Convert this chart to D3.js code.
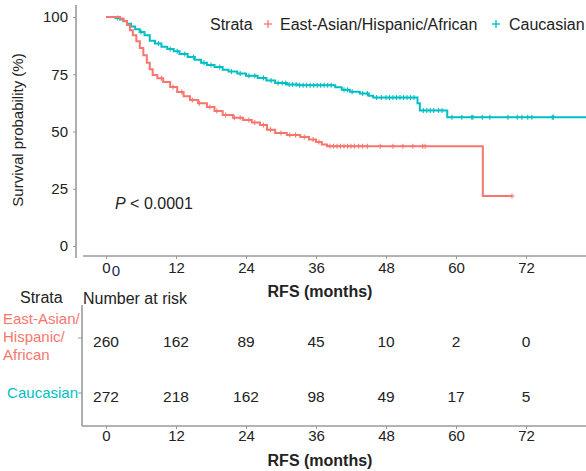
<!DOCTYPE html>
<html>
<head>
<meta charset="utf-8">
<script src="https://cdn.jsdelivr.net/npm/d3@7"></script>
<style>
  body { margin: 0; background: #fff; }
  text { font-family: "Liberation Sans", Arial, sans-serif; }
</style>
</head>
<body>
<div id="chart"></div>
<script>
// survival steps [month, survival %]
let stepsEAH = [[0,100],[2.4,99.3],[3.0,98.2],[3.6,96.5],[4.1,94.2],[4.6,92.0],[5.2,89.4],[5.8,86.5],[6.4,83.3],[7.0,80.0],[7.5,77.2],[8.0,74.7],[8.8,73.2],[9.8,71.6],[11.0,69.4],[12.2,67.2],[13.3,65.4],[14.4,63.8],[15.8,62.3],[17.3,60.7],[18.6,59.0],[20.0,57.2],[21.8,56.0],[23.5,55.0],[25.0,53.9],[26.4,52.8],[27.6,50.8],[29.0,49.3],[31.0,48.5],[33.3,47.6],[34.8,46.5],[36.0,45.4],[37.0,44.3],[37.9,43.6],[64.6,21.8]];
let stepsCau = [[0,100],[1.6,99.6],[2.4,98.9],[3.0,98.1],[3.6,97.0],[4.3,95.8],[5.0,94.7],[5.8,93.5],[6.6,92.0],[7.5,89.6],[8.4,88.4],[9.5,87.0],[10.5,86.0],[11.6,85.0],[12.6,83.8],[14.0,82.5],[15.2,81.3],[16.3,80.0],[17.3,79.0],[18.6,78.2],[20.0,77.0],[21.0,76.2],[22.5,75.3],[24.0,74.3],[26.0,73.4],[27.5,72.3],[29.0,71.2],[31.0,70.5],[33.0,70.2],[39.3,69.3],[40.4,68.2],[41.8,67.4],[43.5,66.6],[45.0,65.6],[45.8,64.8],[53.4,62.3],[53.8,59.2],[58.5,56.2]];
let endEAH = 69.6;
let endCau = 84;

// censoring times (months)
let censEAH = [9.5,11.5,13,14.8,16,17.8,19,20.5,22,23,24.5,25.5,27,28.2,30,31.5,32.5,34,35.5,36.5,38.4,39,39.6,40.2,40.8,41.4,42,42.6,43.3,44,44.8,47,49.2,50.9,52.6,54.3,54.7,69.6];
let censCau = [2,6,9,11,12.2,13.5,15,16.8,18,19.5,21.5,23,24.5,25.5,27,28.3,29.5,30.2,30.8,31.4,32,32.6,33.2,33.8,34.4,35,35.6,36.2,36.8,37.4,38,38.6,40.8,41.4,42.2,44,44.8,46.4,47.2,48,48.6,49.2,49.8,50.4,51,51.6,52.2,52.8,54.4,55,55.6,56.2,57,57.6,59.3,61,62.7,62.9,64.5,65.8,68.9,70.5,71.3,72.3,73,76.5,76.7];

let xTicks = [0,12,24,36,48,60,72];
let yTicks = [0,25,50,75,100];
let riskEAH = [260,162,89,45,10,2,0];
let riskCau = [272,218,162,98,49,17,5];

let red = "#F8766D", teal = "#00BFC4", axisCol = "#9a9a9a", txt = "#222";
let width = 586, height = 471;

let svg = d3.select("#chart").append("svg")
    .attr("width", width).attr("height", height);

let x = d3.scaleLinear().domain([0, 72]).range([106, 526]);
let y = d3.scaleLinear().domain([0, 100]).range([246, 17]);

// y axis
let yAxis = svg.append("g")
    .attr("transform", "translate(76,0)")
    .call(d3.axisLeft(y).tickValues(yTicks).tickSize(3).tickPadding(5));
yAxis.select(".domain").remove();
yAxis.selectAll("line").attr("stroke", axisCol);
yAxis.selectAll("text").attr("fill", txt).style("font-size", "15px");
svg.append("line").attr("x1", 76).attr("x2", 76).attr("y1", 5).attr("y2", 258)
    .attr("stroke", axisCol).attr("stroke-width", 1.6);

// x axis
let xAxis = svg.append("g")
    .attr("transform", "translate(0,256)")
    .call(d3.axisBottom(x).tickValues(xTicks).tickSize(3).tickPadding(3));
xAxis.select(".domain").remove();
xAxis.selectAll("line").attr("stroke", axisCol);
xAxis.selectAll("text").attr("fill", txt).style("font-size", "15px");
svg.append("line").attr("x1", 83).attr("x2", width).attr("y1", 256).attr("y2", 256)
    .attr("stroke", axisCol).attr("stroke-width", 1.6);
svg.append("text").attr("x", x(0) + 10).attr("y", 276).attr("text-anchor", "middle")
    .attr("fill", "#1a2a5a").style("font-size", "15px").text("0");

svg.append("text")
    .attr("transform", "rotate(-90)")
    .attr("x", -130).attr("y", 23)
    .attr("text-anchor", "middle").attr("fill", txt)
    .style("font-size", "15px")
    .text("Survival probability (%)");

svg.append("text").attr("x", 320).attr("y", 297).attr("text-anchor", "middle")
    .attr("fill", txt).style("font-size", "16px").style("font-weight", "bold")
    .text("RFS (months)");

let p = svg.append("text").attr("x", 115).attr("y", 209).attr("fill", txt).style("font-size", "16px");
p.append("tspan").style("font-style", "italic").text("P");
p.append("tspan").text(" < 0.0001");

// curves
let line = d3.line().x(d => x(d[0])).y(d => y(d[1])).curve(d3.curveStepAfter);

function survAt(steps, t) {
    let s = steps[0][1];
    steps.forEach(d => { if (d[0] <= t) s = d[1]; });
    return s;
}

function drawGroup(steps, end, cens, color) {
    let pts = steps.concat([[end, steps[steps.length - 1][1]]]);
    svg.append("path").datum(pts)
        .attr("fill", "none").attr("stroke", color).attr("stroke-width", 2)
        .attr("d", line);
    let g = svg.append("g").attr("stroke", color).attr("stroke-width", 1.1);
    cens.forEach(t => {
        let cx = x(t), cy = y(survAt(steps, t));
        g.append("line").attr("x1", cx - 2.5).attr("x2", cx + 2.5).attr("y1", cy).attr("y2", cy);
        g.append("line").attr("x1", cx).attr("x2", cx).attr("y1", cy - 2.5).attr("y2", cy + 2.5);
    });
}
drawGroup(stepsCau, endCau, censCau, teal);
drawGroup(stepsEAH, endEAH, censEAH, red);

// legend
let leg = svg.append("g").style("font-size", "16px");
leg.append("text").attr("x", 210).attr("y", 30).attr("fill", txt).text("Strata");
function plus(g, cx, cy, color) {
    g.append("line").attr("x1", cx - 4).attr("x2", cx + 4).attr("y1", cy).attr("y2", cy).attr("stroke", color).attr("stroke-width", 1.3);
    g.append("line").attr("x1", cx).attr("x2", cx).attr("y1", cy - 4).attr("y2", cy + 4).attr("stroke", color).attr("stroke-width", 1.3);
}
plus(leg, 268, 24, red);
leg.append("text").attr("x", 280).attr("y", 30).attr("fill", txt).text("East-Asian/Hispanic/African");
plus(leg, 496, 24, teal);
leg.append("text").attr("x", 509).attr("y", 30).attr("fill", txt).text("Caucasian");

// risk table
let rowY = [342, 397];
svg.append("text").attr("x", 20).attr("y", 303).attr("fill", txt).style("font-size", "16px").text("Strata");
svg.append("text").attr("x", 83).attr("y", 304).attr("fill", txt).style("font-size", "16px").text("Number at risk");

svg.append("line").attr("x1", 82).attr("x2", 82).attr("y1", 305).attr("y2", 426)
    .attr("stroke", axisCol).attr("stroke-width", 1.6);
svg.append("line").attr("x1", 82).attr("x2", width).attr("y1", 426).attr("y2", 426)
    .attr("stroke", axisCol).attr("stroke-width", 1.6);
rowY.forEach(ry => svg.append("line").attr("x1", 78).attr("x2", 82).attr("y1", ry - 4).attr("y2", ry - 4).attr("stroke", axisCol));

let xAxis2 = svg.append("g")
    .attr("transform", "translate(0,426)")
    .call(d3.axisBottom(x).tickValues(xTicks).tickSize(3).tickPadding(1));
xAxis2.select(".domain").remove();
xAxis2.selectAll("line").attr("stroke", axisCol);
xAxis2.selectAll("text").attr("fill", txt).style("font-size", "15px");

[riskEAH, riskCau].forEach((row, i) => {
    svg.append("g").selectAll("text").data(row).enter().append("text")
        .attr("x", (d, j) => x(xTicks[j]))
        .attr("y", rowY[i] + 5)
        .attr("text-anchor", "middle").attr("fill", txt)
        .style("font-size", "15.5px")
        .text(d => d);
});

let lab = svg.append("g").style("font-size", "15px");
["East-Asian/", "Hispanic/", "African"].forEach((s, i) => {
    lab.append("text").attr("x", 3).attr("y", 324 + i * 18).attr("fill", red).text(s);
});
lab.append("text").attr("x", 78).attr("y", 398).attr("text-anchor", "end").attr("fill", teal).text("Caucasian");

svg.append("text").attr("x", 320).attr("y", 466).attr("text-anchor", "middle")
    .attr("fill", txt).style("font-size", "16px").style("font-weight", "bold")
    .text("RFS (months)");
</script>
</body>
</html>
